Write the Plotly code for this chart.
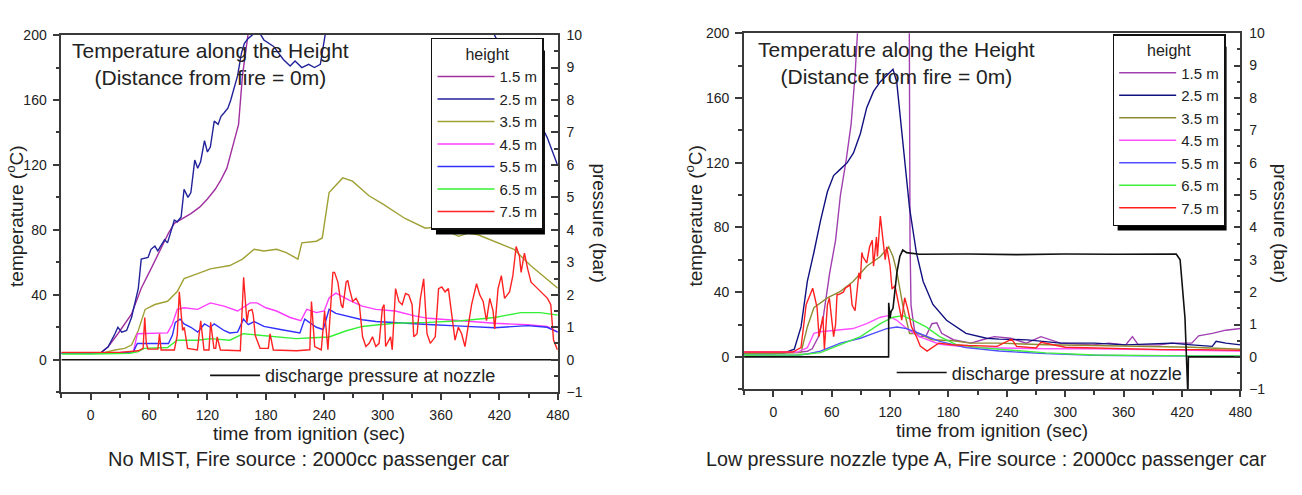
import plotly.graph_objects as go

W, H = 1302, 495
FONT = "Arial, 'Liberation Sans', Helvetica, sans-serif"

# ---------------- data ----------------
heights = ["1.5 m", "2.5 m", "3.5 m", "4.5 m", "5.5 m", "6.5 m", "7.5 m"]
colors_L = ["#a0309f", "#22229a", "#a0a035", "#ff3cff", "#3030ff", "#35f035", "#ff2222"]
colors_R = ["#a040b0", "#101080", "#8c8c35", "#ff50ff", "#5050ff", "#40ee40", "#ff2020"]
x_ticks = [0, 60, 120, 180, 240, 300, 360, 420, 480]

# Left panel: No MIST
L_t15 = [-30, 0, 10, 18, 28, 42, 52, 62, 72, 80, 86, 95, 103, 112, 120, 128, 134, 140, 144, 148, 152, 156, 160, 165, 200, 260, 320, 400, 480]
L_T15 = [4, 4, 4, 8, 16, 28, 44, 56, 68, 78, 84, 87, 90, 94, 99, 105, 111, 118, 127, 135, 145, 175, 195, 215, 260, 300, 320, 335, 350]

L_t25 = [-30, 0, 11, 18, 25, 28, 32, 37, 42, 49, 52, 59, 62, 66, 69, 72, 76, 79, 86, 89, 93, 96, 100, 103, 107, 110, 113, 117, 120, 123, 127, 131, 134, 137, 141, 144, 148, 151, 155, 158, 162, 167.5,
         172, 178, 188, 198, 205, 210, 217, 224, 230, 236, 240, 245, 290, 347, 365, 381, 398, 415, 440, 469, 480]
L_T25 = [4, 4, 4.5, 8, 16, 20, 17, 18, 26, 44, 62, 63, 68, 70, 67, 70, 74, 72, 86, 85, 88, 105, 100, 103, 123, 118, 122, 135, 128, 131, 147, 145, 150, 152, 155, 160, 169, 175, 189, 195, 198, 201,
         203, 197, 193, 185, 181, 184, 180, 182, 180, 182, 198, 215, 240, 201, 230, 201, 225, 200, 171, 137, 119.5]

L_t35 = [-30, 0, 15, 25, 35, 42, 49, 56, 66, 79, 89, 96, 110, 123, 143, 156, 168, 178, 191, 201, 213, 217, 232, 238, 245, 259, 269, 286, 300, 323, 344, 357, 378, 388, 398, 422, 435, 452, 480]
L_T35 = [4, 4, 4.5, 6, 7, 9, 18, 31, 34, 36, 42, 50, 53, 56, 58, 62, 68, 67, 68, 66, 62, 72, 73, 75, 103, 112, 110, 101, 96, 87, 81, 82, 76, 78, 77, 71, 68, 58, 44]

L_t45 = [-30, 0, 30, 44, 48, 79, 84, 89, 96, 110, 123, 137, 151, 164, 171, 180, 191, 205, 216, 222, 232, 240, 245, 252, 266, 279, 293, 313, 333, 347, 381, 415, 449, 469, 480]
L_T45 = [4, 4, 4.5, 5, 16, 16.5, 22, 31, 32, 31, 35, 33, 30, 35, 35, 32, 30, 26, 24, 31, 29, 30, 38, 41, 36.5, 33, 31, 30, 27, 25.5, 24, 22.5, 21.5, 20.5, 17]

L_t55 = [-30, 0, 40, 44, 48, 80, 84, 87, 92, 96, 103, 110, 117, 123, 127, 137, 143, 151, 157, 162, 168, 178, 195, 215, 220, 232, 239, 245, 252, 266, 279, 293, 313, 347, 381, 415, 449, 469, 480]
L_T55 = [4, 4, 4.5, 5, 10, 10, 15, 23, 25, 22, 20, 17, 22, 20, 22, 18, 16.5, 17, 25, 21.6, 23.5, 20.5, 18.6, 16.5, 25, 20, 18.6, 31, 28.5, 26.7, 24.6, 23.5, 22.7, 21.7, 20.7, 19.7, 21, 20, 17]

L_t65 = [-30, 0, 40, 49, 55, 79, 89, 110, 123, 143, 157, 178, 211, 228, 245, 262, 279, 296, 313, 347, 381, 415, 428, 442, 462, 480]
L_T65 = [3.5, 3.5, 4, 5, 7, 7.5, 12, 12, 13, 12, 16, 15, 13, 13.5, 14, 17.7, 20.5, 21.5, 22.5, 23, 24, 26, 27.5, 29, 29, 27.5]

L_t75 = [-30, 0, 30, 48.8, 53.9, 55.6, 57.2, 58.9, 69.1, 70.8, 72.4, 86, 89, 91.1, 93, 94.5, 96.2, 99.6, 109.7, 113.1, 116.5, 121.6, 123.3, 126.7, 128.5, 130, 133.4, 153.8, 157.2, 160.6, 162.3, 165.7, 167, 169.1, 174.1, 182.6, 184.3, 187.7,
         211.6, 225.2, 226.9, 230.2, 237, 240.4, 243.8, 248.9, 250.6, 254, 257.4, 259.1, 262.5, 264.2, 265.9, 269.3, 272.7, 276.1, 279.4, 282.8, 286.2, 289.6, 293, 296.4, 299.8, 301.5, 303.1, 308.2, 309.9,
         313.3, 316.7, 320.1, 323.5, 326.9, 330.3, 332, 335.4, 338.8, 342.2, 345.6, 349, 354.1, 357.5, 360.8, 364.2, 367.6, 371, 374.4, 377.8, 381.2, 384.6, 388, 391.4, 396.5, 399.9, 403.3, 406.7, 410.1,
         413.5, 415.2, 418.6, 422, 425.3, 430.4, 433.8, 437.2, 440.6, 442.3, 445.7, 449.1, 452.5, 455.9, 459.3, 464.4, 469.4, 472.8, 475.6, 479.6]
L_T75 = [4.5, 4.5, 4.5, 5.5, 7, 26, 10, 6.5, 6.5, 16, 6, 6, 15, 41.8, 30, 18, 20, 7, 6, 24, 6, 6, 23, 7, 7, 14.1, 6, 5.5, 50.8, 23, 30, 31, 28, 15, 7.1, 7, 16, 6,
         5.5, 6.1, 35.9, 8.1, 6.1, 29.9, 6.1, 53.8, 53.8, 47.8, 33.9, 31.9, 47.8, 48.8, 43.8, 35.9, 37.8, 33.9, 14.1, 8.1, 10.1, 14.1, 8.1, 10.1, 31.9, 33.9, 8.1, 14.1, 6.1,
         43.8, 35.9, 33.9, 40.8, 39.8, 33.9, 14.1, 16, 37.8, 49.8, 16, 10.1, 14.1, 43.8, 44.8, 41.8, 43.8, 27.9, 12.1, 20, 16, 8.1, 22, 33.9, 46.8, 39.8, 35.9, 24, 37.8,
         29.9, 19, 43.8, 51.8, 37.8, 41.8, 51.8, 69.7, 63.7, 53.8, 65.7, 55.8, 47.8, 45.8, 43.8, 40.8, 37.8, 33.9, 12.1, 6.1]

L_tp = [-30, 0, 120, 240, 360, 480]
L_p = [0, 0, 0, 0, 0, 0]

# Right panel: Low pressure nozzle type A
R_t15 = [-30, 0, 25, 35, 40, 46, 51, 58, 64, 69, 75, 80, 84, 86.5, 100, 120, 139.5, 140.5, 141.5, 145, 150, 157, 163, 168, 173, 185, 203, 215, 227, 244, 260, 275, 295, 328, 345, 362, 369, 375, 397, 410, 430, 437, 451, 465, 480]
R_T15 = [2.5, 2.5, 2.8, 3.5, 5, 12, 23, 52, 72, 100, 122, 144, 174, 200, 260, 280, 250, 72, 32, 16.7, 12.5, 13, 20.5, 21, 14.6, 10.6, 8.5, 10.6, 12.5, 11.5, 8.5, 12.5, 8.5, 7.4, 8.5, 7.4, 12.5, 7.4, 7.4, 8.5, 8.5, 13, 14.5, 16.5, 17.5]

R_t25 = [-30, 0, 11, 21.6, 28.5, 35, 41.7, 48.5, 55.6, 62, 69, 76, 82.4, 89.5, 96, 103, 110, 116.6, 123, 126.8, 133, 140, 147, 154, 164, 178, 198, 219, 232, 261, 295, 330, 362, 409, 430, 451, 455, 465, 480]
R_T25 = [2, 2, 2.5, 4.7, 18.5, 46.6, 64.5, 84, 102, 112, 116, 120, 126, 138, 154, 164, 170, 174, 177.7, 170, 134, 92, 64.5, 46.6, 32.4, 22.6, 14.5, 11.5, 11, 10.5, 8.5, 8.5, 7.4, 8.5, 7.4, 6.5, 9.6, 8.5, 7.4]

R_t35 = [-30, 0, 18, 28.5, 35, 41.7, 55.6, 69, 82, 96, 110, 118.6, 123, 127, 133, 140, 149, 163, 185, 203, 230, 280, 330, 380, 430, 480]
R_T35 = [2, 2, 2.5, 2.6, 18.5, 30.4, 36.4, 40.5, 46.6, 56, 62, 68, 62, 52.5, 32, 14.5, 14.6, 10.6, 10, 8.5, 8.5, 7.5, 7, 6.5, 6, 4.7]

R_t45 = [-30, 0, 25, 35, 41.7, 48.5, 69, 82, 96, 110, 118, 127, 137, 150, 171, 205, 232, 280, 330, 380, 430, 480]
R_T45 = [3, 3, 3, 5.7, 14.5, 15.5, 16.5, 17.5, 20.5, 24.5, 25.5, 22.6, 17.5, 12.5, 7.8, 5.7, 5.5, 5, 5, 4.5, 4.3, 3.6]

R_t55 = [-30, 0, 25, 35, 48.5, 69, 89.5, 103, 116.6, 127, 137, 150, 171, 198, 232, 280, 330, 380, 430, 480]
R_T55 = [1, 1, 1.2, 1.8, 3.6, 8.5, 11.5, 14.5, 17.5, 18.5, 17.5, 14.5, 9.6, 5.7, 3.6, 2, 1, 0.6, 0.5, 0.5]

R_t65 = [-30, 0, 25, 48.5, 69, 89.5, 110, 123, 133, 144, 157, 171, 188, 212, 232, 280, 330, 380, 430, 480]
R_T65 = [1, 1, 1.2, 2.6, 7.6, 12.5, 20.5, 24.5, 25.5, 22.6, 18.5, 12.5, 7.6, 5.7, 4.7, 2.5, 1.2, 0.8, 0.6, 0.6]

R_t75 = [-30, 0, 20, 28.5, 33.8, 40.5, 45, 47, 51, 52.5, 55.6, 57.6, 62, 64, 65.5, 67, 72, 74, 79, 81, 84, 88, 89.5, 91, 92, 96, 99, 101.7, 103, 106, 107, 110, 113, 115, 116.6, 120, 122, 125, 129, 132, 135, 138, 142, 147, 151, 156, 158, 170, 183.7, 200, 230, 245, 250, 270, 275, 300, 330, 360, 400, 440, 480]
R_T75 = [3, 3, 3, 5.7, 32.4, 42.4, 30.5, 12.5, 25, 4.7, 32, 36.5, 12.5, 20, 38.5, 38.5, 40, 42.4, 44.5, 32, 28.5, 52, 48, 64.5, 62, 58, 68, 72, 56, 74, 62, 87, 70, 60, 68, 56, 42, 44, 32, 22.7, 36.5, 30, 18.6, 12.6, 6.7, 4.7, 3.6, 8.5, 7.5, 7, 6.5, 11, 6.5, 5.5, 9, 6, 5.5, 5, 4.5, 4.5, 4]

R_tp = [-30, 118.5, 118.6, 120, 121, 123, 127, 130, 133, 137, 150, 200, 250, 300, 350, 400, 414, 418, 423, 426, 426.5, 480]
R_p = [0, 0, 1.67, 1.2, 1.4, 1.5, 2.6, 3.1, 3.3, 3.22, 3.17, 3.18, 3.16, 3.18, 3.17, 3.18, 3.18, 3.0, 1.2, -1.2, 0, 0]

L_series = [(L_t15, L_T15), (L_t25, L_T25), (L_t35, L_T35), (L_t45, L_T45), (L_t55, L_T55), (L_t65, L_T65), (L_t75, L_T75)]
R_series = [(R_t15, R_T15), (R_t25, R_T25), (R_t35, R_T35), (R_t45, R_T45), (R_t55, R_T55), (R_t65, R_T65), (R_t75, R_T75)]


def px_x(p):
    return p / W


def px_y(p):
    return 1 - p / H


fig = go.Figure()

for i, (t, T) in enumerate(L_series):
    fig.add_trace(go.Scatter(x=t, y=T, mode="lines", name=heights[i],
                             line=dict(color=colors_L[i], width=1.4),
                             xaxis="x", yaxis="y", legend="legend"))
fig.add_trace(go.Scatter(x=L_tp, y=L_p, mode="lines", name="discharge pressure at nozzle",
                         line=dict(color="#111111", width=1.6), xaxis="x", yaxis="y2", legend="legend3"))

for i, (t, T) in enumerate(R_series):
    fig.add_trace(go.Scatter(x=t, y=T, mode="lines", name=heights[i],
                             line=dict(color=colors_R[i], width=1.4),
                             xaxis="x2", yaxis="y3", legend="legend2"))
fig.add_trace(go.Scatter(x=R_tp, y=R_p, mode="lines", name="discharge pressure at nozzle",
                         line=dict(color="#111111", width=1.6), xaxis="x2", yaxis="y4", legend="legend4"))

AX = "#3a3a3a"
tickfont = dict(family=FONT, size=14, color="#222")


def xaxis_cfg(dom, anchor):
    return dict(domain=dom, anchor=anchor, range=[-30, 480], tickmode="array", tickvals=x_ticks,
                ticks="outside", ticklen=6, tickwidth=1.5, tickcolor=AX, showline=True, linecolor=AX,
                linewidth=1.8, mirror=True, showgrid=False, zeroline=False, tickfont=tickfont,
                ticklabelstandoff=3,
                minor=dict(tickmode="linear", tick0=0, dtick=30, ticks="outside", ticklen=4, tickcolor=AX, tickwidth=1.5, showgrid=False))


def ytemp_cfg(dom, anchor):
    return dict(domain=dom, anchor=anchor, range=[-20, 200], tickmode="linear", tick0=0, dtick=40,
                ticks="outside", ticklen=7, tickwidth=1.5, tickcolor=AX, showline=True, linecolor=AX,
                linewidth=1.8, showgrid=False, zeroline=False, tickfont=tickfont, ticklabelstandoff=3,
                minor=dict(tickmode="linear", tick0=0, dtick=20, ticks="outside", ticklen=4, tickcolor=AX, tickwidth=1.5, showgrid=False))


def ypres_cfg(over, anchor):
    return dict(overlaying=over, anchor=anchor, side="right", range=[-1, 10], tickmode="linear", tick0=0, dtick=1,
                ticks="inside", ticklen=7, tickwidth=1.5, tickcolor=AX, showline=True, linecolor=AX,
                linewidth=1.8, showgrid=False, zeroline=False, tickfont=tickfont, ticklabelstandoff=4,
                minor=dict(tickmode="linear", tick0=0, dtick=0.5, ticks="inside", ticklen=4, tickcolor=AX, tickwidth=1.5, showgrid=False))


legend_box = dict(bgcolor="white", bordercolor="#111", borderwidth=1.5,
                  font=dict(family=FONT, size=15, color="#222"),
                  title=dict(text="height", side="top center", font=dict(family=FONT, size=16, color="#222")),
                  xanchor="left", yanchor="top", tracegroupgap=0, itemwidth=57)
legend_p = dict(bgcolor="rgba(0,0,0,0)", borderwidth=0, font=dict(family=FONT, size=18, color="#222"),
                xanchor="left", yanchor="middle", itemwidth=50)

fig.update_layout(
    width=W, height=H, margin=dict(l=0, r=0, t=0, b=0),
    paper_bgcolor="white", plot_bgcolor="white", showlegend=True,
    xaxis=xaxis_cfg([px_x(62), px_x(563)], "y"),
    yaxis=ytemp_cfg([px_y(397), px_y(28)], "x"),
    yaxis2=ypres_cfg("y", "x"),
    xaxis2=xaxis_cfg([px_x(751), px_x(1252)], "y3"),
    yaxis3=ytemp_cfg([px_y(394), px_y(26)], "x2"),
    yaxis4=ypres_cfg("y3", "x2"),
    legend=dict(legend_box, x=px_x(435), y=px_y(31)),
    legend2=dict(legend_box, x=px_x(1123), y=px_y(27)),
    legend3=dict(legend_p, x=px_x(207), y=px_y(380)),
    legend4=dict(legend_p, x=px_x(900), y=px_y(377)),
)

# legend drop shadows
for (l, t, r, b) in [(440, 44, 550, 234), (1128, 40, 1238, 230)]:
    fig.add_shape(type="rect", xref="paper", yref="paper", x0=px_x(l), x1=px_x(r), y0=px_y(b), y1=px_y(t),
                  fillcolor="black", line=dict(width=0), layer="above")

ann_font = dict(family=FONT, size=21, color="#222")
txt_font = dict(family=FONT, size=19, color="#222")
annots = [
    dict(x=px_x(212), y=px_y(58), text="Temperature along the Height<br>(Distance from fire = 0m)", font=ann_font),
    dict(x=px_x(905), y=px_y(57), text="Temperature along the Height<br>(Distance from fire = 0m)", font=ann_font),
    dict(x=px_x(312), y=px_y(440), text="time from ignition (sec)", font=txt_font),
    dict(x=px_x(1001), y=px_y(437), text="time from ignition (sec)", font=txt_font),
    dict(x=px_x(312), y=px_y(466), text="No MIST, Fire source : 2000cc passenger car", font=dict(family=FONT, size=20, color="#222")),
    dict(x=px_x(996), y=px_y(466), text="Low pressure nozzle type A, Fire source : 2000cc passenger car", font=dict(family=FONT, size=19.7, color="#222")),
    dict(x=px_x(15), y=px_y(215), text="temperature (<sup>o</sup>C)", textangle=-90, font=txt_font),
    dict(x=px_x(605), y=px_y(222), text="pressure (bar)", textangle=90, font=txt_font),
    dict(x=px_x(701), y=px_y(215), text="temperature (<sup>o</sup>C)", textangle=-90, font=txt_font),
    dict(x=px_x(1292), y=px_y(222), text="pressure (bar)", textangle=90, font=txt_font),
]
for a in annots:
    fig.add_annotation(xref="paper", yref="paper", showarrow=False, xanchor="center", yanchor="middle", **a)

fig.write_html("out.html")
